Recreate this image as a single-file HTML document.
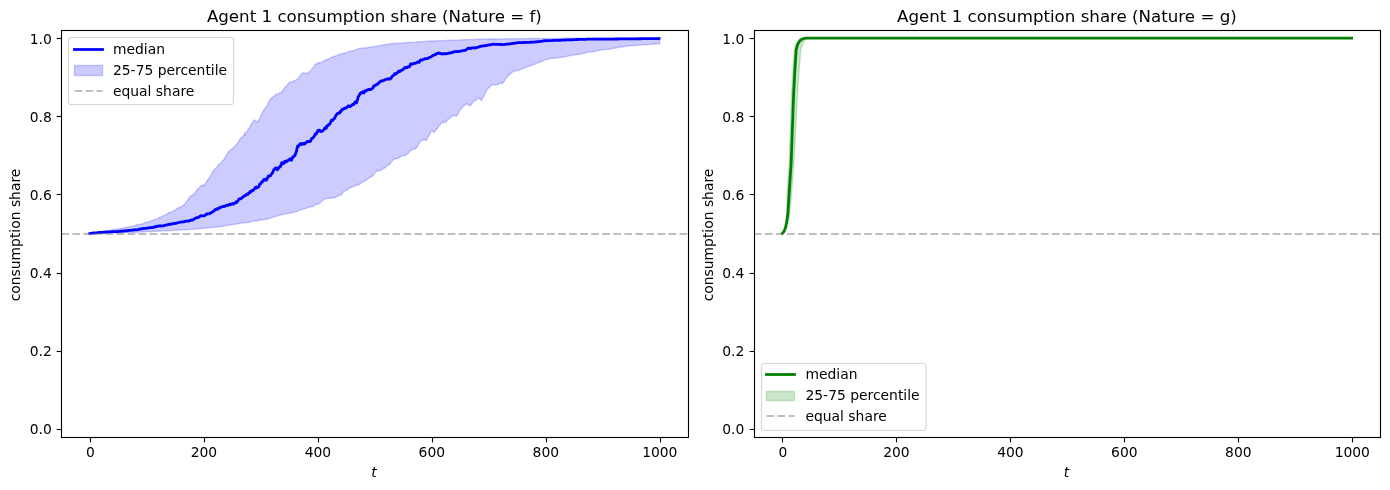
<!DOCTYPE html>
<html lang="en">
<head>
<meta charset="utf-8">
<title>Agent 1 consumption share</title>
<style>
html,body{margin:0;padding:0;background:#fff}
body{width:1390px;height:490px;overflow:hidden}
svg{display:block}
svg text{font-family:"DejaVu Sans", "Liberation Sans", sans-serif;fill:#000}
.tk{font-size:13.89px}
.ti{font-size:16.67px}
.sp{fill:none;stroke:#000;stroke-width:1.11;stroke-linecap:square}
.tick{stroke:#000;stroke-width:1.11;fill:none}
.dash{fill:none;stroke:#808080;stroke-opacity:.5;stroke-width:2.08;stroke-dasharray:7.71 3.33}
</style>
</head>
<body>
<svg width="1390" height="490" viewBox="0 0 1390 490">
<rect width="1390" height="490" fill="#fff"/>
<defs>
<clipPath id="c0"><rect x="61.28" y="30.3" width="626.22" height="406.42"/></clipPath>
<clipPath id="c1"><rect x="753.78" y="30.3" width="626.22" height="406.42"/></clipPath>
</defs>
<g id="axes1">
<g clip-path="url(#c0)">
<path d="M89.74 233.49 L90.31 233.45 L90.88 233.39 L91.45 233.24 L92.02 233.21 L92.59 233.16 L93.16 233.04 L93.73 233 L94.3 232.94 L94.87 232.88 L95.44 232.79 L96.01 232.75 L96.58 232.6 L97.15 232.51 L97.72 232.39 L98.29 232.37 L98.86 232.29 L99.43 232.19 L100 232.05 L100.57 231.93 L101.14 231.84 L101.71 231.72 L102.28 231.75 L102.85 231.73 L103.42 231.34 L103.99 231.08 L104.56 231.02 L105.13 230.92 L105.7 230.88 L106.27 230.83 L106.84 230.97 L107.41 230.72 L107.98 230.58 L108.55 230.69 L109.12 230.62 L109.69 230.54 L110.26 230.34 L110.83 230.05 L111.4 229.97 L111.97 229.88 L112.54 229.66 L113.11 229.51 L113.68 229.43 L114.25 229.28 L114.82 229.22 L115.39 229.18 L115.96 229.12 L116.53 229.01 L117.1 229 L117.67 229 L118.24 228.94 L118.81 228.77 L119.38 228.75 L119.95 228.61 L120.52 228.6 L121.09 228.41 L121.66 228.41 L122.23 228.31 L122.8 228.11 L123.37 228 L123.94 227.94 L124.51 227.9 L125.08 227.72 L125.65 227.53 L126.22 227.49 L126.79 227.37 L127.36 227.33 L127.93 227.34 L128.5 227.03 L129.06 226.95 L129.63 226.98 L130.2 226.79 L130.77 226.55 L131.34 226.52 L131.91 226.41 L132.48 226.38 L133.05 226.16 L133.62 225.81 L134.19 225.68 L134.76 225.5 L135.33 225.49 L135.9 225.38 L136.47 225.01 L137.04 224.74 L137.61 224.79 L138.18 224.78 L138.75 224.54 L139.32 224.42 L139.89 224.37 L140.46 224.3 L141.03 224.28 L141.6 224.14 L142.17 223.95 L142.74 223.73 L143.31 223.69 L143.88 223.1 L144.45 222.92 L145.02 222.77 L145.59 222.37 L146.16 222.31 L146.73 222.05 L147.3 222.07 L147.87 221.88 L148.44 221.82 L149.01 221.85 L149.58 221.68 L150.15 221.28 L150.72 220.8 L151.29 220.99 L151.86 220.75 L152.43 220.41 L153 220.26 L153.57 220.04 L154.14 220.04 L154.71 219.83 L155.28 219.63 L155.85 219.27 L156.42 219.2 L156.99 218.77 L157.56 218.69 L158.13 218.77 L158.7 218.1 L159.27 217.28 L159.84 217.29 L160.41 217.7 L160.98 217.14 L161.55 216.57 L162.12 216.51 L162.69 216.06 L163.26 215.72 L163.83 215.44 L164.4 215.38 L164.97 215.03 L165.54 214.88 L166.11 214.58 L166.68 214.1 L167.25 213.8 L167.82 213.34 L168.39 213.17 L168.96 212.67 L169.53 212.22 L170.09 212.51 L170.66 212.27 L171.23 212.03 L171.8 211.9 L172.37 211.48 L172.94 211.13 L173.51 210.96 L174.08 210.71 L174.65 210.08 L175.22 210.04 L175.79 209.54 L176.36 208.9 L176.93 208.34 L177.5 207.99 L178.07 208.43 L178.64 207.7 L179.21 207.77 L179.78 206.85 L180.35 206.98 L180.92 207.48 L181.49 207.24 L182.06 206.18 L182.63 205.57 L183.2 205.15 L183.77 204.64 L184.34 204.74 L184.91 203.77 L185.48 202.62 L186.05 201.85 L186.62 201.14 L187.19 200.55 L187.76 199.89 L188.33 199.36 L188.9 197.66 L189.47 197.74 L190.04 196.83 L190.61 195.65 L191.18 195.67 L191.75 195.93 L192.32 195.54 L192.89 194.93 L193.46 193.73 L194.03 194.7 L194.6 194.28 L195.17 192.77 L195.74 191.64 L196.31 191.08 L196.88 189.69 L197.45 189.33 L198.02 188.6 L198.59 188.83 L199.16 188.86 L199.73 186.89 L200.3 186.65 L200.87 185.5 L201.44 185.93 L202.01 185.69 L202.58 185.63 L203.15 184.59 L203.72 185.31 L204.29 185.95 L204.86 184.31 L205.43 183.71 L206 182.44 L206.57 181.68 L207.14 180.13 L207.71 180.78 L208.28 179.31 L208.85 178.37 L209.42 177.93 L209.99 176.66 L210.56 175.74 L211.12 174.63 L211.69 173.86 L212.26 172.39 L212.83 171.53 L213.4 170.84 L213.97 170.03 L214.54 169.48 L215.11 168.64 L215.68 168.59 L216.25 167.9 L216.82 167.36 L217.39 166.47 L217.96 165.74 L218.53 164.57 L219.1 164.7 L219.67 163.6 L220.24 162.88 L220.81 162.93 L221.38 162.88 L221.95 162.21 L222.52 160.5 L223.09 160.51 L223.66 160.02 L224.23 158.34 L224.8 158.25 L225.37 157.02 L225.94 155.58 L226.51 155.04 L227.08 154.25 L227.65 153.69 L228.22 151.85 L228.79 152.58 L229.36 151.63 L229.93 150.13 L230.5 150.25 L231.07 149.58 L231.64 149.38 L232.21 148.67 L232.78 148.17 L233.35 147.85 L233.92 146.85 L234.49 146.84 L235.06 145.99 L235.63 144.96 L236.2 144.52 L236.77 144.25 L237.34 143.48 L237.91 142.34 L238.48 142.22 L239.05 140.47 L239.62 139.39 L240.19 139.09 L240.76 137.8 L241.33 137.56 L241.9 137.18 L242.47 137.38 L243.04 136.2 L243.61 135.32 L244.18 135.11 L244.75 132.83 L245.32 134.47 L245.89 133.1 L246.46 131.82 L247.03 131.67 L247.6 130.79 L248.17 128.77 L248.74 128.53 L249.31 128.19 L249.88 126.87 L250.45 125.74 L251.02 125.08 L251.59 123.52 L252.15 122.87 L252.72 122.02 L253.29 121.26 L253.86 120.41 L254.43 120.46 L255 120.07 L255.57 120.99 L256.14 121.16 L256.71 121.71 L257.28 121.72 L257.85 121.8 L258.42 120.21 L258.99 119.6 L259.56 119.64 L260.13 118.07 L260.7 116.41 L261.27 115.16 L261.84 113.72 L262.41 112.21 L262.98 111.34 L263.55 110.15 L264.12 110.11 L264.69 108.92 L265.26 108.04 L265.83 107.64 L266.4 106.31 L266.97 106.2 L267.54 104.57 L268.11 102.97 L268.68 101.84 L269.25 101.25 L269.82 99.81 L270.39 99.47 L270.96 98.09 L271.53 98.76 L272.1 98.27 L272.67 97.46 L273.24 96.66 L273.81 96.29 L274.38 95.99 L274.95 95.29 L275.52 94.73 L276.09 94.51 L276.66 94.07 L277.23 94.3 L277.8 94.5 L278.37 94.08 L278.94 93.87 L279.51 92.76 L280.08 92.73 L280.65 92.31 L281.22 92.14 L281.79 92.51 L282.36 90.73 L282.93 90.51 L283.5 89.29 L284.07 89.04 L284.64 87.74 L285.21 86.98 L285.78 86.57 L286.35 86.3 L286.92 85.69 L287.49 84.65 L288.06 83.79 L288.63 83.63 L289.2 82.95 L289.77 81.88 L290.34 82.15 L290.91 82.13 L291.48 82.26 L292.05 81.78 L292.61 81.86 L293.18 81.02 L293.75 81.03 L294.32 80.51 L294.89 80.56 L295.46 80.65 L296.03 79.95 L296.6 79.63 L297.17 79.3 L297.74 78.95 L298.31 78.33 L298.88 77.02 L299.45 76.4 L300.02 75.84 L300.59 75.68 L301.16 74.18 L301.73 73.59 L302.3 73.94 L302.87 73.3 L303.44 72.79 L304.01 72.98 L304.58 73.33 L305.15 72.94 L305.72 73.08 L306.29 73 L306.86 73.44 L307.43 73.21 L308 73.37 L308.57 72.8 L309.14 72.04 L309.71 71.31 L310.28 71.04 L310.85 70.49 L311.42 69.43 L311.99 68.98 L312.56 68.55 L313.13 67.75 L313.7 66.92 L314.27 66.14 L314.84 64.78 L315.41 64.33 L315.98 64.08 L316.55 63.59 L317.12 63.78 L317.69 63.1 L318.26 62.84 L318.83 62.62 L319.4 63.21 L319.97 62.48 L320.54 62.5 L321.11 62.57 L321.68 62.4 L322.25 62.41 L322.82 61.82 L323.39 61 L323.96 61.05 L324.53 60.52 L325.1 60.21 L325.67 59.69 L326.24 59.79 L326.81 59.77 L327.38 59.27 L327.95 59.24 L328.52 58.94 L329.09 58.58 L329.66 58.28 L330.23 57.91 L330.8 57.76 L331.37 57.5 L331.94 57.07 L332.51 56.99 L333.08 56.52 L333.64 56.39 L334.21 56.28 L334.78 56.38 L335.35 55.99 L335.92 56.11 L336.49 55.84 L337.06 55.52 L337.63 55.14 L338.2 55.04 L338.77 54.83 L339.34 54.41 L339.91 54.05 L340.48 53.83 L341.05 53.59 L341.62 53.67 L342.19 53.74 L342.76 53.68 L343.33 53.5 L343.9 53.2 L344.47 53 L345.04 52.94 L345.61 53.07 L346.18 52.94 L346.75 52.6 L347.32 52.35 L347.89 52.03 L348.46 51.7 L349.03 51.49 L349.6 51.36 L350.17 51.49 L350.74 51.26 L351.31 51.26 L351.88 51.29 L352.45 51.01 L353.02 50.99 L353.59 50.79 L354.16 50.42 L354.73 50.2 L355.3 49.95 L355.87 49.68 L356.44 49.44 L357.01 49.27 L357.58 49.13 L358.15 48.82 L358.72 48.65 L359.29 48.3 L359.86 48.21 L360.43 48.21 L361 48.17 L361.57 48.14 L362.14 48.12 L362.71 47.98 L363.28 47.9 L363.85 47.89 L364.42 47.9 L364.99 47.85 L365.56 47.94 L366.13 47.81 L366.7 47.76 L367.27 47.73 L367.84 47.62 L368.41 47.48 L368.98 47.33 L369.55 47.27 L370.12 47.29 L370.69 47.23 L371.26 47.17 L371.83 47.06 L372.4 47.04 L372.97 46.8 L373.54 46.77 L374.11 46.73 L374.67 46.53 L375.24 46.63 L375.81 46.39 L376.38 46.19 L376.95 46 L377.52 46.03 L378.09 45.85 L378.66 45.84 L379.23 45.79 L379.8 45.71 L380.37 45.45 L380.94 45.3 L381.51 45.39 L382.08 45.13 L382.65 44.96 L383.22 44.87 L383.79 44.86 L384.36 44.78 L384.93 44.74 L385.5 44.51 L386.07 44.49 L386.64 44.42 L387.21 44.16 L387.78 44.18 L388.35 44.22 L388.92 44.04 L389.49 43.98 L390.06 44.01 L390.63 43.84 L391.2 43.67 L391.77 43.57 L392.34 43.54 L392.91 43.5 L393.48 43.53 L394.05 43.52 L394.62 43.43 L395.19 43.44 L395.76 43.48 L396.33 43.48 L396.9 43.46 L397.47 43.4 L398.04 43.38 L398.61 43.28 L399.18 43.26 L399.75 43.21 L400.32 43.2 L400.89 43.16 L401.46 43.06 L402.03 43.02 L402.6 43.02 L403.17 42.93 L403.74 42.86 L404.31 42.79 L404.88 42.7 L405.45 42.72 L406.02 42.74 L406.59 42.72 L407.16 42.68 L407.73 42.63 L408.3 42.59 L408.87 42.51 L409.44 42.51 L410.01 42.5 L410.58 42.48 L411.15 42.41 L411.72 42.36 L412.29 42.31 L412.86 42.33 L413.43 42.28 L414 42.16 L414.57 42.14 L415.14 42.17 L415.7 42.14 L416.27 42.12 L416.84 42.06 L417.41 41.93 L417.98 41.83 L418.55 41.76 L419.12 41.74 L419.69 41.73 L420.26 41.73 L420.83 41.68 L421.4 41.69 L421.97 41.64 L422.54 41.57 L423.11 41.57 L423.68 41.5 L424.25 41.37 L424.82 41.32 L425.39 41.31 L425.96 41.19 L426.53 41.18 L427.1 41.16 L427.67 41.11 L428.24 41.06 L428.81 41.04 L429.38 41.02 L429.95 41.05 L430.52 41.03 L431.09 40.96 L431.66 40.92 L432.23 40.94 L432.8 40.98 L433.37 40.96 L433.94 40.94 L434.51 40.96 L435.08 40.92 L435.65 40.88 L436.22 40.82 L436.79 40.79 L437.36 40.82 L437.93 40.76 L438.5 40.74 L439.07 40.69 L439.64 40.68 L440.21 40.68 L440.78 40.65 L441.35 40.64 L441.92 40.63 L442.49 40.62 L443.06 40.63 L443.63 40.61 L444.2 40.57 L444.77 40.52 L445.34 40.48 L445.91 40.47 L446.48 40.44 L447.05 40.47 L447.62 40.47 L448.19 40.43 L448.76 40.39 L449.33 40.39 L449.9 40.32 L450.47 40.29 L451.04 40.29 L451.61 40.24 L452.18 40.21 L452.75 40.19 L453.32 40.19 L453.89 40.17 L454.46 40.16 L455.03 40.15 L455.6 40.12 L456.17 40.12 L456.73 40.08 L457.3 40.03 L457.87 39.98 L458.44 39.94 L459.01 39.92 L459.58 39.93 L460.15 39.93 L460.72 39.9 L461.29 39.86 L461.86 39.84 L462.43 39.82 L463 39.8 L463.57 39.77 L464.14 39.75 L464.71 39.76 L465.28 39.71 L465.85 39.69 L466.42 39.64 L466.99 39.65 L467.56 39.62 L468.13 39.58 L468.7 39.58 L469.27 39.61 L469.84 39.6 L470.41 39.6 L470.98 39.58 L471.55 39.52 L472.12 39.51 L472.69 39.49 L473.26 39.45 L473.83 39.45 L474.4 39.44 L474.97 39.41 L475.54 39.41 L476.11 39.38 L476.68 39.37 L477.25 39.34 L477.82 39.33 L478.39 39.29 L478.96 39.3 L479.53 39.29 L480.1 39.29 L480.67 39.25 L481.24 39.22 L481.81 39.21 L482.38 39.15 L482.95 39.12 L483.52 39.14 L484.09 39.14 L484.66 39.14 L485.23 39.13 L485.8 39.13 L486.37 39.11 L486.94 39.09 L487.51 39.07 L488.08 39.06 L488.65 39.06 L489.22 39.05 L489.79 39.02 L490.36 39.01 L490.93 39.01 L491.5 39.01 L492.07 39 L492.64 39 L493.21 38.98 L493.78 38.99 L494.35 38.98 L494.92 38.99 L495.49 38.99 L496.06 38.99 L496.63 38.97 L497.19 38.97 L497.76 38.95 L498.33 38.95 L498.9 38.94 L499.47 38.93 L500.04 38.93 L500.61 38.94 L501.18 38.92 L501.75 38.92 L502.32 38.9 L502.89 38.89 L503.46 38.87 L504.03 38.86 L504.6 38.86 L505.17 38.86 L505.74 38.86 L506.31 38.85 L506.88 38.84 L507.45 38.83 L508.02 38.81 L508.59 38.81 L509.16 38.8 L509.73 38.79 L510.3 38.78 L510.87 38.76 L511.44 38.76 L512.01 38.75 L512.58 38.74 L513.15 38.73 L513.72 38.73 L514.29 38.73 L514.86 38.73 L515.43 38.72 L516 38.7 L516.57 38.69 L517.14 38.68 L517.71 38.68 L518.28 38.68 L518.85 38.67 L519.42 38.66 L519.99 38.65 L520.56 38.65 L521.13 38.63 L521.7 38.63 L522.27 38.63 L522.84 38.62 L523.41 38.61 L523.98 38.61 L524.55 38.6 L525.12 38.59 L525.69 38.6 L526.26 38.59 L526.83 38.6 L527.4 38.59 L527.97 38.58 L528.54 38.58 L529.11 38.58 L529.68 38.57 L530.25 38.56 L530.82 38.56 L531.39 38.55 L531.96 38.54 L532.53 38.53 L533.1 38.53 L533.67 38.52 L534.24 38.52 L534.81 38.52 L535.38 38.52 L535.95 38.52 L536.52 38.51 L537.09 38.51 L537.66 38.5 L538.22 38.5 L538.79 38.5 L539.36 38.5 L539.93 38.49 L540.5 38.49 L541.07 38.48 L541.64 38.49 L542.21 38.49 L542.78 38.48 L543.35 38.47 L543.92 38.46 L544.49 38.46 L545.06 38.46 L545.63 38.45 L546.2 38.45 L546.77 38.43 L547.34 38.42 L547.91 38.43 L548.48 38.42 L549.05 38.42 L549.62 38.42 L550.19 38.41 L550.76 38.42 L551.33 38.41 L551.9 38.4 L552.47 38.4 L553.04 38.4 L553.61 38.39 L554.18 38.39 L554.75 38.38 L555.32 38.38 L555.89 38.37 L556.46 38.37 L557.03 38.36 L557.6 38.36 L558.17 38.36 L558.74 38.35 L559.31 38.35 L559.88 38.35 L560.45 38.34 L561.02 38.34 L561.59 38.34 L562.16 38.33 L562.73 38.33 L563.3 38.32 L563.87 38.32 L564.44 38.32 L565.01 38.32 L565.58 38.3 L566.15 38.3 L566.72 38.29 L567.29 38.29 L567.86 38.29 L568.43 38.28 L569 38.28 L569.57 38.28 L570.14 38.27 L570.71 38.27 L571.28 38.27 L571.85 38.27 L572.42 38.26 L572.99 38.25 L573.56 38.24 L574.13 38.24 L574.7 38.24 L575.27 38.24 L575.84 38.24 L576.41 38.23 L576.98 38.23 L577.55 38.22 L578.12 38.22 L578.69 38.22 L579.25 38.21 L579.82 38.21 L580.39 38.21 L580.96 38.21 L581.53 38.2 L582.1 38.2 L582.67 38.2 L583.24 38.2 L583.81 38.2 L584.38 38.2 L584.95 38.2 L585.52 38.2 L586.09 38.19 L586.66 38.19 L587.23 38.19 L587.8 38.19 L588.37 38.19 L588.94 38.19 L589.51 38.19 L590.08 38.19 L590.65 38.19 L591.22 38.19 L591.79 38.18 L592.36 38.18 L592.93 38.18 L593.5 38.18 L594.07 38.18 L594.64 38.18 L595.21 38.18 L595.78 38.18 L596.35 38.18 L596.92 38.18 L597.49 38.18 L598.06 38.18 L598.63 38.18 L599.2 38.18 L599.77 38.18 L600.34 38.18 L600.91 38.17 L601.48 38.17 L602.05 38.17 L602.62 38.17 L603.19 38.17 L603.76 38.17 L604.33 38.17 L604.9 38.17 L605.47 38.17 L606.04 38.17 L606.61 38.16 L607.18 38.16 L607.75 38.16 L608.32 38.16 L608.89 38.16 L609.46 38.16 L610.03 38.16 L610.6 38.16 L611.17 38.16 L611.74 38.16 L612.31 38.16 L612.88 38.16 L613.45 38.16 L614.02 38.16 L614.59 38.16 L615.16 38.16 L615.73 38.15 L616.3 38.15 L616.87 38.15 L617.44 38.15 L618.01 38.15 L618.58 38.15 L619.15 38.15 L619.72 38.15 L620.28 38.15 L620.85 38.15 L621.42 38.15 L621.99 38.15 L622.56 38.14 L623.13 38.14 L623.7 38.14 L624.27 38.14 L624.84 38.14 L625.41 38.14 L625.98 38.14 L626.55 38.14 L627.12 38.14 L627.69 38.14 L628.26 38.14 L628.83 38.14 L629.4 38.14 L629.97 38.14 L630.54 38.14 L631.11 38.13 L631.68 38.13 L632.25 38.13 L632.82 38.13 L633.39 38.13 L633.96 38.13 L634.53 38.13 L635.1 38.13 L635.67 38.13 L636.24 38.13 L636.81 38.13 L637.38 38.13 L637.95 38.13 L638.52 38.13 L639.09 38.13 L639.66 38.12 L640.23 38.12 L640.8 38.12 L641.37 38.12 L641.94 38.12 L642.51 38.12 L643.08 38.12 L643.65 38.12 L644.22 38.12 L644.79 38.12 L645.36 38.12 L645.93 38.12 L646.5 38.12 L647.07 38.12 L647.64 38.12 L648.21 38.12 L648.78 38.12 L649.35 38.12 L649.92 38.12 L650.49 38.12 L651.06 38.12 L651.63 38.12 L652.2 38.12 L652.77 38.12 L653.34 38.12 L653.91 38.12 L654.48 38.12 L655.05 38.12 L655.62 38.12 L656.19 38.12 L656.76 38.12 L657.33 38.12 L657.9 38.12 L658.47 38.12 L659.64 38.12 L659.64 43.66 L658.47 43.71 L657.9 43.79 L657.33 43.8 L656.76 43.87 L656.19 43.95 L655.62 44.01 L655.05 43.99 L654.48 44.03 L653.91 44.07 L653.34 44.14 L652.77 44.15 L652.2 44.23 L651.63 44.22 L651.06 44.22 L650.49 44.31 L649.92 44.35 L649.35 44.45 L648.78 44.57 L648.21 44.57 L647.64 44.66 L647.07 44.71 L646.5 44.79 L645.93 44.8 L645.36 44.92 L644.79 44.85 L644.22 44.88 L643.65 44.89 L643.08 44.92 L642.51 44.89 L641.94 44.91 L641.37 44.95 L640.8 45.04 L640.23 45.12 L639.66 45.13 L639.09 45.2 L638.52 45.18 L637.95 45.28 L637.38 45.28 L636.81 45.32 L636.24 45.3 L635.67 45.38 L635.1 45.45 L634.53 45.42 L633.96 45.48 L633.39 45.48 L632.82 45.61 L632.25 45.71 L631.68 45.63 L631.11 45.65 L630.54 45.7 L629.97 45.88 L629.4 45.9 L628.83 46.07 L628.26 46.07 L627.69 46.12 L627.12 46.18 L626.55 46.23 L625.98 46.5 L625.41 46.54 L624.84 46.49 L624.27 46.53 L623.7 46.62 L623.13 46.72 L622.56 47.09 L621.99 47.13 L621.42 47.01 L620.85 47.04 L620.28 47.1 L619.72 47.25 L619.15 47.28 L618.58 47.38 L618.01 47.51 L617.44 47.66 L616.87 47.79 L616.3 47.82 L615.73 47.95 L615.16 48.05 L614.59 48.21 L614.02 48.27 L613.45 48.24 L612.88 48.41 L612.31 48.55 L611.74 48.67 L611.17 48.88 L610.6 48.88 L610.03 49.15 L609.46 49.3 L608.89 49.21 L608.32 49.26 L607.75 49.33 L607.18 49.48 L606.61 49.51 L606.04 49.6 L605.47 49.58 L604.9 49.57 L604.33 49.52 L603.76 49.53 L603.19 49.59 L602.62 49.82 L602.05 49.98 L601.48 50.06 L600.91 50.13 L600.34 50.17 L599.77 50.4 L599.2 50.47 L598.63 50.56 L598.06 50.67 L597.49 50.64 L596.92 50.65 L596.35 50.77 L595.78 50.85 L595.21 51.07 L594.64 51.28 L594.07 51.4 L593.5 51.63 L592.93 51.69 L592.36 51.86 L591.79 51.86 L591.22 51.99 L590.65 51.96 L590.08 51.79 L589.51 52.05 L588.94 51.85 L588.37 51.9 L587.8 51.97 L587.23 52.28 L586.66 52.48 L586.09 52.54 L585.52 52.66 L584.95 52.9 L584.38 53.18 L583.81 53.29 L583.24 53.32 L582.67 53.71 L582.1 53.8 L581.53 53.83 L580.96 53.91 L580.39 54.11 L579.82 54.2 L579.25 54.35 L578.69 54.41 L578.12 54.6 L577.55 54.55 L576.98 54.59 L576.41 54.55 L575.84 54.69 L575.27 54.89 L574.7 54.87 L574.13 54.9 L573.56 54.91 L572.99 55.15 L572.42 55.26 L571.85 55.36 L571.28 55.5 L570.71 55.52 L570.14 55.62 L569.57 55.72 L569 55.69 L568.43 55.8 L567.86 56.02 L567.29 56.32 L566.72 56.44 L566.15 56.44 L565.58 56.51 L565.01 56.73 L564.44 56.95 L563.87 57.07 L563.3 57.09 L562.73 57.29 L562.16 57.13 L561.59 57.11 L561.02 57.25 L560.45 57.23 L559.88 57.44 L559.31 57.51 L558.74 57.68 L558.17 57.75 L557.6 57.81 L557.03 57.81 L556.46 57.86 L555.89 57.95 L555.32 58.02 L554.75 58.06 L554.18 58.17 L553.61 58.23 L553.04 58.2 L552.47 58.22 L551.9 58.25 L551.33 58.36 L550.76 58.3 L550.19 58.63 L549.62 58.64 L549.05 58.85 L548.48 59.16 L547.91 59.36 L547.34 59.59 L546.77 59.5 L546.2 59.55 L545.63 59.6 L545.06 59.87 L544.49 60.03 L543.92 60.45 L543.35 60.65 L542.78 60.67 L542.21 61.26 L541.64 61.25 L541.07 61.68 L540.5 62.17 L539.93 62.06 L539.36 62.25 L538.79 62.51 L538.22 62.9 L537.66 62.84 L537.09 63.09 L536.52 63.45 L535.95 64.12 L535.38 64.28 L534.81 64.34 L534.24 64.41 L533.67 64.48 L533.1 64.46 L532.53 64.92 L531.96 64.85 L531.39 65.22 L530.82 65.7 L530.25 65.88 L529.68 66.22 L529.11 66.28 L528.54 66.33 L527.97 66.6 L527.4 66.86 L526.83 66.6 L526.26 66.77 L525.69 66.87 L525.12 67.4 L524.55 68.18 L523.98 68.39 L523.41 68.41 L522.84 68.45 L522.27 68.63 L521.7 68.73 L521.13 69.02 L520.56 69.37 L519.99 69.77 L519.42 69.82 L518.85 70.33 L518.28 70.55 L517.71 70.33 L517.14 70.22 L516.57 70.54 L516 71.03 L515.43 71.25 L514.86 71.06 L514.29 70.65 L513.72 70.85 L513.15 71.11 L512.58 72.03 L512.01 71.78 L511.44 72.99 L510.87 73.61 L510.3 73.74 L509.73 74.49 L509.16 74.94 L508.59 74.59 L508.02 75.97 L507.45 76.59 L506.88 77.17 L506.31 78.13 L505.74 78.92 L505.17 79.55 L504.6 80.88 L504.03 81.61 L503.46 82.15 L502.89 82.47 L502.32 83.77 L501.75 83.15 L501.18 83.02 L500.61 83.2 L500.04 83.17 L499.47 83.27 L498.9 83.72 L498.33 83.95 L497.76 84.39 L497.19 84.63 L496.63 84.88 L496.06 84.93 L495.49 85.05 L494.92 84.83 L494.35 84.52 L493.78 84.68 L493.21 84.75 L492.64 84.9 L492.07 84.6 L491.5 85.59 L490.93 85.98 L490.36 86.06 L489.79 87.68 L489.22 87.72 L488.65 87.65 L488.08 88.67 L487.51 89.26 L486.94 90.03 L486.37 90.83 L485.8 91.66 L485.23 93.44 L484.66 94.74 L484.09 95.67 L483.52 96.88 L482.95 97.67 L482.38 98.46 L481.81 99.33 L481.24 100.53 L480.67 98.89 L480.1 99.2 L479.53 98.95 L478.96 97.93 L478.39 97.87 L477.82 97.74 L477.25 99.04 L476.68 99.86 L476.11 99.66 L475.54 100.05 L474.97 100.83 L474.4 100.91 L473.83 101.06 L473.26 101.78 L472.69 103.02 L472.12 103.32 L471.55 103.9 L470.98 105.2 L470.41 105.46 L469.84 105.92 L469.27 105.26 L468.7 104.31 L468.13 104.46 L467.56 104.83 L466.99 104.39 L466.42 103.4 L465.85 104.12 L465.28 104.88 L464.71 105.38 L464.14 105.54 L463.57 105.87 L463 106.67 L462.43 107.1 L461.86 107.85 L461.29 108.79 L460.72 109.03 L460.15 109.4 L459.58 110.53 L459.01 111.77 L458.44 113.1 L457.87 113.92 L457.3 115.04 L456.73 115.9 L456.17 116.25 L455.6 115.74 L455.03 115.38 L454.46 115.68 L453.89 115.33 L453.32 115.78 L452.75 115.97 L452.18 115.91 L451.61 116.44 L451.04 116.85 L450.47 117.72 L449.9 118.29 L449.33 118.17 L448.76 118.9 L448.19 119.52 L447.62 120.12 L447.05 120.37 L446.48 121.5 L445.91 122.4 L445.34 121.9 L444.77 121.62 L444.2 121.98 L443.63 121.35 L443.06 122.64 L442.49 122.82 L441.92 122.95 L441.35 123.11 L440.78 123.41 L440.21 124.71 L439.64 125.18 L439.07 125.59 L438.5 126.49 L437.93 127.99 L437.36 128.64 L436.79 128.41 L436.22 129.73 L435.65 130.77 L435.08 131.05 L434.51 131.45 L433.94 132.54 L433.37 131.06 L432.8 131.01 L432.23 131.21 L431.66 130.98 L431.09 131.14 L430.52 133.15 L429.95 133.37 L429.38 134.73 L428.81 136.23 L428.24 136.53 L427.67 137.49 L427.1 139.17 L426.53 140.08 L425.96 139.97 L425.39 140.45 L424.82 139.79 L424.25 139.02 L423.68 139.76 L423.11 140.15 L422.54 140.1 L421.97 139.89 L421.4 140.5 L420.83 141.13 L420.26 141.91 L419.69 142.56 L419.12 143.54 L418.55 144.34 L417.98 145.86 L417.41 146.62 L416.84 147.81 L416.27 147.93 L415.7 148.01 L415.14 148.81 L414.57 149.25 L414 148.97 L413.43 149.17 L412.86 149.28 L412.29 149.87 L411.72 150.42 L411.15 150.18 L410.58 150.43 L410.01 150.96 L409.44 152.08 L408.87 152.72 L408.3 153.2 L407.73 153.68 L407.16 154.18 L406.59 154.28 L406.02 154.72 L405.45 154.92 L404.88 155.65 L404.31 155.9 L403.74 155.63 L403.17 155.76 L402.6 155.89 L402.03 156.08 L401.46 156.36 L400.89 156.36 L400.32 156.89 L399.75 157.14 L399.18 157.53 L398.61 157.72 L398.04 158.17 L397.47 158.56 L396.9 158.61 L396.33 158.63 L395.76 158.78 L395.19 159.17 L394.62 158.98 L394.05 158.94 L393.48 159.55 L392.91 159.56 L392.34 160.88 L391.77 161.62 L391.2 162.2 L390.63 163.04 L390.06 163.98 L389.49 164.86 L388.92 164.86 L388.35 164.54 L387.78 165.51 L387.21 165.66 L386.64 165.77 L386.07 166.8 L385.5 167.5 L384.93 167.98 L384.36 168.09 L383.79 167.71 L383.22 168.4 L382.65 168.91 L382.08 169.39 L381.51 169.32 L380.94 169.9 L380.37 170.31 L379.8 170.7 L379.23 170.72 L378.66 171.12 L378.09 170.99 L377.52 170.82 L376.95 171.23 L376.38 171.19 L375.81 171.86 L375.24 172.68 L374.67 173.3 L374.11 173.66 L373.54 174.51 L372.97 175.99 L372.4 176.01 L371.83 176.23 L371.26 176.69 L370.69 177.23 L370.12 177.13 L369.55 177.87 L368.98 178.28 L368.41 178.24 L367.84 178.67 L367.27 179.2 L366.7 179.93 L366.13 180.43 L365.56 180.77 L364.99 180.97 L364.42 181.05 L363.85 181.24 L363.28 181.57 L362.71 181.88 L362.14 182.28 L361.57 182.98 L361 183.14 L360.43 183.49 L359.86 184.11 L359.29 184.3 L358.72 185.04 L358.15 184.44 L357.58 184.76 L357.01 184.52 L356.44 185.22 L355.87 185.69 L355.3 185.85 L354.73 185.91 L354.16 186.48 L353.59 186.63 L353.02 186.97 L352.45 187.12 L351.88 187.09 L351.31 187.43 L350.74 187.64 L350.17 187.47 L349.6 187.8 L349.03 188.28 L348.46 188.89 L347.89 189.35 L347.32 189.7 L346.75 190.49 L346.18 190.17 L345.61 190.34 L345.04 190.66 L344.47 191.19 L343.9 191.68 L343.33 192.05 L342.76 192.7 L342.19 193.68 L341.62 194.44 L341.05 195.08 L340.48 194.6 L339.91 195.21 L339.34 195.28 L338.77 196.01 L338.2 196.1 L337.63 196.1 L337.06 196.59 L336.49 196.6 L335.92 197.02 L335.35 197.41 L334.78 197.73 L334.21 198.16 L333.64 197.61 L333.08 197.78 L332.51 197.72 L331.94 197.68 L331.37 197.79 L330.8 198.03 L330.23 198.12 L329.66 198.28 L329.09 198.27 L328.52 198.23 L327.95 198.56 L327.38 198.3 L326.81 198.35 L326.24 198.52 L325.67 198.6 L325.1 198.92 L324.53 199.38 L323.96 199.54 L323.39 199.64 L322.82 200.61 L322.25 200.85 L321.68 201.08 L321.11 201.9 L320.54 202.48 L319.97 202.87 L319.4 203.12 L318.83 203.82 L318.26 204.1 L317.69 203.77 L317.12 204.38 L316.55 204.37 L315.98 204.19 L315.41 204.7 L314.84 205.19 L314.27 205.61 L313.7 206.17 L313.13 206.44 L312.56 206.35 L311.99 206.52 L311.42 206.54 L310.85 206.87 L310.28 207.06 L309.71 207.22 L309.14 207.03 L308.57 207.05 L308 207.37 L307.43 207.77 L306.86 207.79 L306.29 208.05 L305.72 208.26 L305.15 208.66 L304.58 208.75 L304.01 208.97 L303.44 208.87 L302.87 208.97 L302.3 209.08 L301.73 209.54 L301.16 209.58 L300.59 209.69 L300.02 209.81 L299.45 210.32 L298.88 210.87 L298.31 210.91 L297.74 211.35 L297.17 211.36 L296.6 211.43 L296.03 211.62 L295.46 211.72 L294.89 211.94 L294.32 212.07 L293.75 212.39 L293.18 212.53 L292.61 212.75 L292.05 212.8 L291.48 212.82 L290.91 212.78 L290.34 213.1 L289.77 213.14 L289.2 213.28 L288.63 213.52 L288.06 213.55 L287.49 213.5 L286.92 213.59 L286.35 213.57 L285.78 213.69 L285.21 213.62 L284.64 213.95 L284.07 214.24 L283.5 214.44 L282.93 214.29 L282.36 214.45 L281.79 214.49 L281.22 214.6 L280.65 214.92 L280.08 215.03 L279.51 215.18 L278.94 215.17 L278.37 215.36 L277.8 215.8 L277.23 216.05 L276.66 216.1 L276.09 216.23 L275.52 216.49 L274.95 216.42 L274.38 216.74 L273.81 216.84 L273.24 217.16 L272.67 217.25 L272.1 217.36 L271.53 217.8 L270.96 217.59 L270.39 217.62 L269.82 217.99 L269.25 218.32 L268.68 218.68 L268.11 218.89 L267.54 218.97 L266.97 219.05 L266.4 219.21 L265.83 219.3 L265.26 219.23 L264.69 219.48 L264.12 219.62 L263.55 219.85 L262.98 219.84 L262.41 219.78 L261.84 220 L261.27 220.08 L260.7 220.14 L260.13 220.06 L259.56 220.04 L258.99 220.18 L258.42 220.48 L257.85 220.73 L257.28 220.84 L256.71 220.97 L256.14 220.97 L255.57 221.13 L255 220.93 L254.43 220.95 L253.86 220.92 L253.29 221.05 L252.72 221.2 L252.15 221.45 L251.59 221.57 L251.02 221.72 L250.45 222.11 L249.88 222.15 L249.31 222.18 L248.74 222.44 L248.17 222.52 L247.6 222.49 L247.03 222.67 L246.46 222.68 L245.89 222.78 L245.32 222.78 L244.75 222.67 L244.18 222.69 L243.61 222.72 L243.04 222.78 L242.47 222.87 L241.9 223.03 L241.33 223.17 L240.76 223.24 L240.19 223.37 L239.62 223.44 L239.05 223.61 L238.48 223.62 L237.91 223.81 L237.34 223.88 L236.77 224.02 L236.2 224.17 L235.63 224.18 L235.06 224.07 L234.49 224.22 L233.92 224.34 L233.35 224.43 L232.78 224.6 L232.21 224.61 L231.64 224.68 L231.07 224.66 L230.5 224.72 L229.93 224.92 L229.36 225.09 L228.79 225.24 L228.22 225.24 L227.65 225.29 L227.08 225.34 L226.51 225.33 L225.94 225.51 L225.37 225.69 L224.8 225.84 L224.23 225.91 L223.66 226.22 L223.09 226.29 L222.52 226.47 L221.95 226.53 L221.38 226.48 L220.81 226.35 L220.24 226.45 L219.67 226.58 L219.1 226.56 L218.53 226.76 L217.96 226.87 L217.39 226.89 L216.82 226.9 L216.25 227.09 L215.68 227.21 L215.11 227.25 L214.54 227.17 L213.97 227.32 L213.4 227.31 L212.83 227.29 L212.26 227.41 L211.69 227.46 L211.12 227.5 L210.56 227.51 L209.99 227.58 L209.42 227.62 L208.85 227.67 L208.28 227.63 L207.71 227.67 L207.14 227.82 L206.57 227.98 L206 228.03 L205.43 228.01 L204.86 228.12 L204.29 228.12 L203.72 228.2 L203.15 228.23 L202.58 228.4 L202.01 228.38 L201.44 228.52 L200.87 228.59 L200.3 228.54 L199.73 228.56 L199.16 228.65 L198.59 228.72 L198.02 228.72 L197.45 228.75 L196.88 228.93 L196.31 228.96 L195.74 229.04 L195.17 229.06 L194.6 229.03 L194.03 229.09 L193.46 229.13 L192.89 229.22 L192.32 229.33 L191.75 229.34 L191.18 229.33 L190.61 229.44 L190.04 229.48 L189.47 229.6 L188.9 229.61 L188.33 229.6 L187.76 229.66 L187.19 229.68 L186.62 229.69 L186.05 229.76 L185.48 229.79 L184.91 229.79 L184.34 229.78 L183.77 229.81 L183.2 229.84 L182.63 229.83 L182.06 229.91 L181.49 229.94 L180.92 229.99 L180.35 230.06 L179.78 230.1 L179.21 230.11 L178.64 230.12 L178.07 230.13 L177.5 230.17 L176.93 230.19 L176.36 230.23 L175.79 230.28 L175.22 230.3 L174.65 230.37 L174.08 230.37 L173.51 230.41 L172.94 230.39 L172.37 230.44 L171.8 230.44 L171.23 230.51 L170.66 230.53 L170.09 230.57 L169.53 230.59 L168.96 230.65 L168.39 230.71 L167.82 230.74 L167.25 230.78 L166.68 230.75 L166.11 230.79 L165.54 230.81 L164.97 230.86 L164.4 230.85 L163.83 230.85 L163.26 230.87 L162.69 230.91 L162.12 230.97 L161.55 231.01 L160.98 231.06 L160.41 231.12 L159.84 231.13 L159.27 231.14 L158.7 231.17 L158.13 231.2 L157.56 231.26 L156.99 231.3 L156.42 231.31 L155.85 231.28 L155.28 231.34 L154.71 231.37 L154.14 231.36 L153.57 231.45 L153 231.47 L152.43 231.54 L151.86 231.55 L151.29 231.62 L150.72 231.61 L150.15 231.66 L149.58 231.69 L149.01 231.65 L148.44 231.66 L147.87 231.65 L147.3 231.66 L146.73 231.67 L146.16 231.73 L145.59 231.77 L145.02 231.81 L144.45 231.85 L143.88 231.89 L143.31 231.91 L142.74 231.94 L142.17 232 L141.6 232.02 L141.03 232.07 L140.46 232.06 L139.89 232.11 L139.32 232.11 L138.75 232.12 L138.18 232.17 L137.61 232.2 L137.04 232.25 L136.47 232.29 L135.9 232.29 L135.33 232.34 L134.76 232.37 L134.19 232.39 L133.62 232.4 L133.05 232.37 L132.48 232.41 L131.91 232.47 L131.34 232.49 L130.77 232.5 L130.2 232.54 L129.63 232.57 L129.06 232.55 L128.5 232.57 L127.93 232.54 L127.36 232.62 L126.79 232.67 L126.22 232.72 L125.65 232.73 L125.08 232.76 L124.51 232.79 L123.94 232.83 L123.37 232.84 L122.8 232.89 L122.23 232.93 L121.66 232.96 L121.09 232.95 L120.52 232.95 L119.95 232.98 L119.38 232.97 L118.81 232.98 L118.24 233.02 L117.67 233.02 L117.1 233.01 L116.53 233.06 L115.96 233.05 L115.39 233.07 L114.82 233.06 L114.25 233.08 L113.68 233.11 L113.11 233.14 L112.54 233.13 L111.97 233.14 L111.4 233.15 L110.83 233.18 L110.26 233.18 L109.69 233.19 L109.12 233.2 L108.55 233.21 L107.98 233.21 L107.41 233.21 L106.84 233.21 L106.27 233.21 L105.7 233.23 L105.13 233.25 L104.56 233.28 L103.99 233.27 L103.42 233.28 L102.85 233.3 L102.28 233.3 L101.71 233.31 L101.14 233.32 L100.57 233.32 L100 233.33 L99.43 233.34 L98.86 233.36 L98.29 233.36 L97.72 233.37 L97.15 233.37 L96.58 233.39 L96.01 233.4 L95.44 233.42 L94.87 233.42 L94.3 233.43 L93.73 233.44 L93.16 233.45 L92.59 233.46 L92.02 233.46 L91.45 233.45 L90.88 233.48 L90.31 233.49 L89.74 233.5Z" fill="#0000ff" fill-opacity=".2" stroke="#0000ff" stroke-opacity=".2" stroke-width="1.39" stroke-linejoin="miter"/>
<path d="M89.74 233.5 L90.31 233.32 L90.88 233.31 L91.45 233.24 L92.02 233.18 L92.59 233.13 L93.16 232.96 L93.73 232.94 L94.3 232.86 L94.87 233.08 L95.44 233.01 L96.01 232.9 L96.58 232.8 L97.15 232.69 L97.72 232.57 L98.29 232.51 L98.86 232.52 L99.43 232.46 L100 232.48 L100.57 232.41 L101.14 232.37 L101.71 232.42 L102.28 232.37 L102.85 232.27 L103.42 232.2 L103.99 232.18 L104.56 232.22 L105.13 232.13 L105.7 232.05 L106.27 232.04 L106.84 231.94 L107.41 231.91 L107.98 231.94 L108.55 231.94 L109.12 231.91 L109.69 231.91 L110.26 231.77 L110.83 231.81 L111.4 231.75 L111.97 231.68 L112.54 231.7 L113.11 231.72 L113.68 231.68 L114.25 231.62 L114.82 231.62 L115.39 231.6 L115.96 231.63 L116.53 231.61 L117.1 231.57 L117.67 231.57 L118.24 231.5 L118.81 231.4 L119.38 231.39 L119.95 231.38 L120.52 231.32 L121.09 231.23 L121.66 231.21 L122.23 231.02 L122.8 231.07 L123.37 231.09 L123.94 230.94 L124.51 230.94 L125.08 230.86 L125.65 230.9 L126.22 230.7 L126.79 230.63 L127.36 230.69 L127.93 230.76 L128.5 230.5 L129.06 230.43 L129.63 230.43 L130.2 230.32 L130.77 230.43 L131.34 230.22 L131.91 230.2 L132.48 230.03 L133.05 230.13 L133.62 230.03 L134.19 229.91 L134.76 229.66 L135.33 229.82 L135.9 229.81 L136.47 229.78 L137.04 229.79 L137.61 229.68 L138.18 229.47 L138.75 229.29 L139.32 229.14 L139.89 229.25 L140.46 228.98 L141.03 228.86 L141.6 228.78 L142.17 228.76 L142.74 228.77 L143.31 228.53 L143.88 228.28 L144.45 228.28 L145.02 228.4 L145.59 228.41 L146.16 228.33 L146.73 228.18 L147.3 228.12 L147.87 227.99 L148.44 228 L149.01 227.78 L149.58 227.72 L150.15 227.61 L150.72 227.59 L151.29 227.5 L151.86 227.72 L152.43 227.71 L153 227.67 L153.57 227.14 L154.14 226.96 L154.71 226.78 L155.28 226.77 L155.85 226.36 L156.42 226.5 L156.99 226.56 L157.56 226.25 L158.13 226.05 L158.7 225.91 L159.27 225.89 L159.84 225.92 L160.41 226.12 L160.98 225.93 L161.55 225.9 L162.12 225.77 L162.69 225.87 L163.26 225.77 L163.83 225.77 L164.4 225.4 L164.97 225.23 L165.54 225 L166.11 225.12 L166.68 225.06 L167.25 224.86 L167.82 224.67 L168.39 224.63 L168.96 224.41 L169.53 224.2 L170.09 224.21 L170.66 224.47 L171.23 224.24 L171.8 224.01 L172.37 223.73 L172.94 223.48 L173.51 223.54 L174.08 223.6 L174.65 223.5 L175.22 223.44 L175.79 223.34 L176.36 223.24 L176.93 222.88 L177.5 222.77 L178.07 222.75 L178.64 222.55 L179.21 222.4 L179.78 222.21 L180.35 222.11 L180.92 222.2 L181.49 222.01 L182.06 221.88 L182.63 221.92 L183.2 221.88 L183.77 222.02 L184.34 221.37 L184.91 221.43 L185.48 221.17 L186.05 221.08 L186.62 221.14 L187.19 221.2 L187.76 221.21 L188.33 220.97 L188.9 221.12 L189.47 220.73 L190.04 220.44 L190.61 220.33 L191.18 219.85 L191.75 220.13 L192.32 219.97 L192.89 220.1 L193.46 219.54 L194.03 218.98 L194.6 218.67 L195.17 218.53 L195.74 218 L196.31 217.86 L196.88 217.6 L197.45 217.83 L198.02 217.29 L198.59 217.33 L199.16 216.84 L199.73 216.37 L200.3 216.06 L200.87 215.68 L201.44 215.72 L202.01 215.93 L202.58 215.8 L203.15 215.77 L203.72 215.97 L204.29 215.7 L204.86 215.43 L205.43 215.05 L206 214.34 L206.57 214.45 L207.14 213.72 L207.71 213.88 L208.28 213.73 L208.85 213.94 L209.42 213.65 L209.99 213.11 L210.56 213.09 L211.12 212.68 L211.69 212.38 L212.26 212.12 L212.83 211.77 L213.4 211.41 L213.97 210.82 L214.54 210.54 L215.11 209.52 L215.68 209.45 L216.25 208.92 L216.82 209.32 L217.39 209.56 L217.96 208.42 L218.53 208.32 L219.1 208.15 L219.67 207.65 L220.24 207.81 L220.81 207.51 L221.38 206.79 L221.95 206.75 L222.52 206.7 L223.09 206.68 L223.66 206.17 L224.23 206.36 L224.8 206.45 L225.37 205.87 L225.94 205.56 L226.51 205.45 L227.08 205.16 L227.65 205.58 L228.22 205.33 L228.79 204.71 L229.36 204.26 L229.93 204.11 L230.5 204.72 L231.07 204.27 L231.64 203.98 L232.21 203.86 L232.78 203.5 L233.35 204.17 L233.92 203.36 L234.49 203.3 L235.06 202.92 L235.63 202.81 L236.2 201.74 L236.77 202.43 L237.34 201.73 L237.91 201.03 L238.48 199.86 L239.05 198.98 L239.62 198.9 L240.19 198.91 L240.76 198.64 L241.33 198.54 L241.9 198.04 L242.47 197.14 L243.04 196.83 L243.61 196.52 L244.18 195.8 L244.75 195.66 L245.32 195.78 L245.89 195.16 L246.46 194.29 L247.03 194.19 L247.6 194.65 L248.17 193.72 L248.74 193.05 L249.31 192.46 L249.88 192.64 L250.45 191.12 L251.02 191.08 L251.59 191.35 L252.15 190.35 L252.72 190.73 L253.29 190.38 L253.86 189.44 L254.43 189.06 L255 187.72 L255.57 187.17 L256.14 188.04 L256.71 186.96 L257.28 187.71 L257.85 186.98 L258.42 187 L258.99 186.31 L259.56 184.23 L260.13 183.71 L260.7 183.72 L261.27 182.72 L261.84 181.64 L262.41 181.85 L262.98 181.14 L263.55 179.74 L264.12 179.29 L264.69 179.92 L265.26 179.24 L265.83 179.63 L266.4 180.2 L266.97 179.33 L267.54 177.67 L268.11 176.19 L268.68 175.97 L269.25 176.35 L269.82 175.98 L270.39 175.76 L270.96 174.67 L271.53 174.32 L272.1 173.31 L272.67 172.55 L273.24 171.11 L273.81 169.73 L274.38 169.44 L274.95 168.6 L275.52 167.97 L276.09 168.56 L276.66 168.19 L277.23 169.93 L277.8 169.51 L278.37 167.94 L278.94 167.75 L279.51 167.24 L280.08 166.05 L280.65 166.29 L281.22 165.08 L281.79 162.63 L282.36 163.31 L282.93 162.74 L283.5 163.54 L284.07 162.63 L284.64 161.56 L285.21 162.32 L285.78 161.2 L286.35 161.03 L286.92 161.5 L287.49 160.97 L288.06 160.37 L288.63 159.94 L289.2 160.06 L289.77 158.8 L290.34 158.9 L290.91 158.88 L291.48 160.35 L292.05 158.85 L292.61 157.15 L293.18 157.33 L293.75 156.32 L294.32 156.08 L294.89 154.83 L295.46 154.5 L296.03 152.29 L296.6 150.88 L297.17 147.4 L297.74 146.04 L298.31 146.79 L298.88 145.5 L299.45 144.82 L300.02 143.81 L300.59 144.53 L301.16 144.59 L301.73 143.45 L302.3 144.05 L302.87 144.02 L303.44 144.2 L304.01 143.33 L304.58 144 L305.15 143.59 L305.72 142.95 L306.29 142.22 L306.86 141.75 L307.43 141.93 L308 141.34 L308.57 141.63 L309.14 141.46 L309.71 141.75 L310.28 141.55 L310.85 140.74 L311.42 138.76 L311.99 138.44 L312.56 138.35 L313.13 137.64 L313.7 137.21 L314.27 136.01 L314.84 135.04 L315.41 133.77 L315.98 134.23 L316.55 133.54 L317.12 132.4 L317.69 130.81 L318.26 130.3 L318.83 131.1 L319.4 131.14 L319.97 130.3 L320.54 131.14 L321.11 131.65 L321.68 131.49 L322.25 131.02 L322.82 130.82 L323.39 130.17 L323.96 129.74 L324.53 128.2 L325.1 128.54 L325.67 127.77 L326.24 128.35 L326.81 125.8 L327.38 125.8 L327.95 125.9 L328.52 124.83 L329.09 124.54 L329.66 124.11 L330.23 123.25 L330.8 121.48 L331.37 120.26 L331.94 120.46 L332.51 120.67 L333.08 119.75 L333.64 118.94 L334.21 118.32 L334.78 118.39 L335.35 116.67 L335.92 115.1 L336.49 114.98 L337.06 113.85 L337.63 113.37 L338.2 113.37 L338.77 113.48 L339.34 112.39 L339.91 112.72 L340.48 111.14 L341.05 111.41 L341.62 110.11 L342.19 109.29 L342.76 109.75 L343.33 109.3 L343.9 108.62 L344.47 108.23 L345.04 108.33 L345.61 107.97 L346.18 107.6 L346.75 107.8 L347.32 106.87 L347.89 106.3 L348.46 105.76 L349.03 106.28 L349.6 106.47 L350.17 106.73 L350.74 105.99 L351.31 105.28 L351.88 105.39 L352.45 104.47 L353.02 104.64 L353.59 104.56 L354.16 103.31 L354.73 102.52 L355.3 101.64 L355.87 102.19 L356.44 102.97 L357.01 101.31 L357.58 99.8 L358.15 96.76 L358.72 96.15 L359.29 95.27 L359.86 93.6 L360.43 94 L361 92.62 L361.57 92.57 L362.14 92.71 L362.71 91.76 L363.28 92.49 L363.85 93.02 L364.42 91.69 L364.99 90.73 L365.56 91.24 L366.13 91.12 L366.7 90.31 L367.27 90.11 L367.84 89.8 L368.41 89.42 L368.98 89.53 L369.55 89.24 L370.12 89.64 L370.69 89.58 L371.26 89.02 L371.83 88.71 L372.4 88.49 L372.97 87.86 L373.54 86.17 L374.11 86.03 L374.67 85.41 L375.24 85.74 L375.81 85.02 L376.38 84.63 L376.95 84.16 L377.52 84.35 L378.09 83.66 L378.66 82.88 L379.23 82.49 L379.8 81.81 L380.37 81.48 L380.94 81.08 L381.51 80.83 L382.08 81.27 L382.65 80.76 L383.22 80.53 L383.79 80.25 L384.36 80.3 L384.93 79.66 L385.5 79.32 L386.07 79.28 L386.64 79.42 L387.21 79.26 L387.78 78.93 L388.35 78.5 L388.92 78.71 L389.49 79.25 L390.06 79.08 L390.63 78.49 L391.2 78.05 L391.77 76.91 L392.34 76.25 L392.91 75.66 L393.48 75.37 L394.05 74.84 L394.62 73.69 L395.19 73.97 L395.76 74.33 L396.33 73.37 L396.9 72.91 L397.47 72.5 L398.04 72.46 L398.61 71.15 L399.18 71.77 L399.75 71.04 L400.32 71.3 L400.89 70.82 L401.46 70.18 L402.03 69.78 L402.6 69.87 L403.17 69.09 L403.74 68.68 L404.31 68.27 L404.88 67.41 L405.45 67.91 L406.02 67.89 L406.59 67.55 L407.16 67.7 L407.73 66.88 L408.3 66.57 L408.87 66.98 L409.44 66.89 L410.01 65.46 L410.58 63.92 L411.15 63.68 L411.72 64.27 L412.29 63.98 L412.86 63.8 L413.43 63.91 L414 63.3 L414.57 63.23 L415.14 63.33 L415.7 63.17 L416.27 62.95 L416.84 62.32 L417.41 62.22 L417.98 61.71 L418.55 61.9 L419.12 62.39 L419.69 61.46 L420.26 60.23 L420.83 59.9 L421.4 59.86 L421.97 60.06 L422.54 60.14 L423.11 59.53 L423.68 59.05 L424.25 59.32 L424.82 58.69 L425.39 58.9 L425.96 58.56 L426.53 58.58 L427.1 58.52 L427.67 58.44 L428.24 58.35 L428.81 57.64 L429.38 57.51 L429.95 57.26 L430.52 57.05 L431.09 57.1 L431.66 56.57 L432.23 55.97 L432.8 55.47 L433.37 55.18 L433.94 55.2 L434.51 54.67 L435.08 54.79 L435.65 54.53 L436.22 54.12 L436.79 53.44 L437.36 53.39 L437.93 53.48 L438.5 52.87 L439.07 53.15 L439.64 53.39 L440.21 53.3 L440.78 53.41 L441.35 53.94 L441.92 54.07 L442.49 53.76 L443.06 53.76 L443.63 53.78 L444.2 53.83 L444.77 53.5 L445.34 53.87 L445.91 53.81 L446.48 53.74 L447.05 53.59 L447.62 53.62 L448.19 53.38 L448.76 53.07 L449.33 53.04 L449.9 53.12 L450.47 52.82 L451.04 52.84 L451.61 52.62 L452.18 52.3 L452.75 52.34 L453.32 51.97 L453.89 51.92 L454.46 51.67 L455.03 51.7 L455.6 51.49 L456.17 51.38 L456.73 51.57 L457.3 51.57 L457.87 51.55 L458.44 51.46 L459.01 51.53 L459.58 51.28 L460.15 51.14 L460.72 51.18 L461.29 51.08 L461.86 50.87 L462.43 50.73 L463 50.56 L463.57 50.36 L464.14 50.51 L464.71 50.44 L465.28 50.37 L465.85 50.01 L466.42 49.58 L466.99 49.01 L467.56 48.77 L468.13 48.14 L468.7 48 L469.27 48.25 L469.84 48.57 L470.41 48.6 L470.98 48.22 L471.55 48.19 L472.12 47.9 L472.69 47.96 L473.26 47.81 L473.83 47.83 L474.4 48.08 L474.97 47.94 L475.54 48.02 L476.11 47.73 L476.68 47.43 L477.25 47.43 L477.82 47.45 L478.39 47.11 L478.96 46.93 L479.53 46.56 L480.1 46.44 L480.67 46.48 L481.24 46.34 L481.81 46.15 L482.38 45.86 L482.95 45.88 L483.52 45.93 L484.09 45.91 L484.66 45.81 L485.23 45.5 L485.8 45.68 L486.37 45.52 L486.94 45.37 L487.51 45.34 L488.08 44.95 L488.65 44.9 L489.22 44.83 L489.79 44.8 L490.36 44.85 L490.93 44.76 L491.5 44.46 L492.07 44.36 L492.64 44.31 L493.21 44.29 L493.78 44.22 L494.35 44.17 L494.92 44.27 L495.49 44.34 L496.06 44.36 L496.63 44.3 L497.19 44.43 L497.76 44.32 L498.33 44.36 L498.9 44.48 L499.47 44.48 L500.04 44.5 L500.61 44.47 L501.18 44.55 L501.75 44.5 L502.32 44.53 L502.89 44.56 L503.46 44.52 L504.03 44.6 L504.6 44.47 L505.17 44.38 L505.74 44.33 L506.31 44.24 L506.88 44.23 L507.45 44.23 L508.02 44.12 L508.59 43.99 L509.16 43.88 L509.73 43.79 L510.3 43.82 L510.87 43.72 L511.44 43.69 L512.01 43.59 L512.58 43.42 L513.15 43.46 L513.72 43.27 L514.29 43.22 L514.86 43.29 L515.43 43.09 L516 43.02 L516.57 42.83 L517.14 42.76 L517.71 42.62 L518.28 42.59 L518.85 42.55 L519.42 42.59 L519.99 42.69 L520.56 42.67 L521.13 42.67 L521.7 42.63 L522.27 42.59 L522.84 42.52 L523.41 42.44 L523.98 42.46 L524.55 42.51 L525.12 42.5 L525.69 42.45 L526.26 42.48 L526.83 42.44 L527.4 42.39 L527.97 42.33 L528.54 42.28 L529.11 42.27 L529.68 42.35 L530.25 42.31 L530.82 42.24 L531.39 42.2 L531.96 42.18 L532.53 42.08 L533.1 42.09 L533.67 42.1 L534.24 42.06 L534.81 42.04 L535.38 41.88 L535.95 41.72 L536.52 41.8 L537.09 41.82 L537.66 41.63 L538.22 41.6 L538.79 41.55 L539.36 41.55 L539.93 41.49 L540.5 41.38 L541.07 41.34 L541.64 41.29 L542.21 41.22 L542.78 41.02 L543.35 40.79 L543.92 40.78 L544.49 40.69 L545.06 40.74 L545.63 40.78 L546.2 40.76 L546.77 40.69 L547.34 40.67 L547.91 40.72 L548.48 40.64 L549.05 40.67 L549.62 40.67 L550.19 40.64 L550.76 40.67 L551.33 40.59 L551.9 40.59 L552.47 40.52 L553.04 40.47 L553.61 40.43 L554.18 40.43 L554.75 40.39 L555.32 40.39 L555.89 40.34 L556.46 40.37 L557.03 40.4 L557.6 40.37 L558.17 40.39 L558.74 40.37 L559.31 40.39 L559.88 40.34 L560.45 40.25 L561.02 40.27 L561.59 40.23 L562.16 40.16 L562.73 40.12 L563.3 40.05 L563.87 40.04 L564.44 40 L565.01 40.04 L565.58 40.04 L566.15 39.95 L566.72 39.89 L567.29 39.87 L567.86 39.8 L568.43 39.81 L569 39.81 L569.57 39.78 L570.14 39.76 L570.71 39.77 L571.28 39.8 L571.85 39.82 L572.42 39.78 L572.99 39.77 L573.56 39.7 L574.13 39.68 L574.7 39.62 L575.27 39.62 L575.84 39.55 L576.41 39.51 L576.98 39.5 L577.55 39.5 L578.12 39.44 L578.69 39.41 L579.25 39.4 L579.82 39.39 L580.39 39.36 L580.96 39.36 L581.53 39.35 L582.1 39.37 L582.67 39.36 L583.24 39.31 L583.81 39.26 L584.38 39.27 L584.95 39.28 L585.52 39.27 L586.09 39.27 L586.66 39.25 L587.23 39.22 L587.8 39.22 L588.37 39.21 L588.94 39.21 L589.51 39.18 L590.08 39.18 L590.65 39.18 L591.22 39.18 L591.79 39.17 L592.36 39.17 L592.93 39.16 L593.5 39.17 L594.07 39.16 L594.64 39.15 L595.21 39.15 L595.78 39.14 L596.35 39.15 L596.92 39.13 L597.49 39.13 L598.06 39.13 L598.63 39.13 L599.2 39.13 L599.77 39.13 L600.34 39.13 L600.91 39.12 L601.48 39.12 L602.05 39.12 L602.62 39.11 L603.19 39.11 L603.76 39.1 L604.33 39.1 L604.9 39.09 L605.47 39.07 L606.04 39.07 L606.61 39.07 L607.18 39.07 L607.75 39.06 L608.32 39.07 L608.89 39.06 L609.46 39.05 L610.03 39.05 L610.6 39.05 L611.17 39.04 L611.74 39.04 L612.31 39.05 L612.88 39.04 L613.45 39.04 L614.02 39.03 L614.59 39.02 L615.16 39.01 L615.73 38.99 L616.3 38.99 L616.87 38.98 L617.44 38.99 L618.01 38.99 L618.58 38.98 L619.15 38.97 L619.72 38.98 L620.28 38.97 L620.85 38.96 L621.42 38.95 L621.99 38.95 L622.56 38.95 L623.13 38.94 L623.7 38.95 L624.27 38.95 L624.84 38.92 L625.41 38.94 L625.98 38.93 L626.55 38.93 L627.12 38.91 L627.69 38.9 L628.26 38.89 L628.83 38.88 L629.4 38.88 L629.97 38.88 L630.54 38.85 L631.11 38.85 L631.68 38.85 L632.25 38.84 L632.82 38.83 L633.39 38.82 L633.96 38.81 L634.53 38.79 L635.1 38.78 L635.67 38.79 L636.24 38.78 L636.81 38.78 L637.38 38.76 L637.95 38.77 L638.52 38.78 L639.09 38.76 L639.66 38.76 L640.23 38.74 L640.8 38.75 L641.37 38.74 L641.94 38.72 L642.51 38.73 L643.08 38.72 L643.65 38.71 L644.22 38.7 L644.79 38.68 L645.36 38.67 L645.93 38.67 L646.5 38.66 L647.07 38.65 L647.64 38.66 L648.21 38.65 L648.78 38.63 L649.35 38.62 L649.92 38.62 L650.49 38.62 L651.06 38.61 L651.63 38.61 L652.2 38.59 L652.77 38.58 L653.34 38.57 L653.91 38.56 L654.48 38.56 L655.05 38.54 L655.62 38.56 L656.19 38.54 L656.76 38.54 L657.33 38.54 L657.9 38.53 L658.47 38.52 L659.04 38.5" fill="none" stroke="#0000ff" stroke-width="2.78" stroke-linejoin="round" stroke-linecap="square"/>
<path class="dash" d="M61.28 234 H687.5"/>
</g>
<path class="tick" d="M90.5 437.5 v4.86"/><text class="tk" x="90.44" y="457" text-anchor="middle">0</text>
<path class="tick" d="M204.5 437.5 v4.86"/><text class="tk" x="203.92" y="457" text-anchor="middle">200</text>
<path class="tick" d="M318.5 437.5 v4.86"/><text class="tk" x="317.89" y="457" text-anchor="middle">400</text>
<path class="tick" d="M432.5 437.5 v4.86"/><text class="tk" x="431.86" y="457" text-anchor="middle">600</text>
<path class="tick" d="M546.5 437.5 v4.86"/><text class="tk" x="545.83" y="457" text-anchor="middle">800</text>
<path class="tick" d="M660.5 437.5 v4.86"/><text class="tk" x="659.81" y="457" text-anchor="middle">1000</text>
<path class="tick" d="M61.5 429.5 h-4.86"/><text class="tk" x="51.86" y="434" text-anchor="end">0.0</text>
<path class="tick" d="M61.5 351.5 h-4.86"/><text class="tk" x="51.86" y="356" text-anchor="end">0.2</text>
<path class="tick" d="M61.5 273.5 h-4.86"/><text class="tk" x="51.86" y="278" text-anchor="end">0.4</text>
<path class="tick" d="M61.5 194.5 h-4.86"/><text class="tk" x="51.86" y="200" text-anchor="end">0.6</text>
<path class="tick" d="M61.5 116.5 h-4.86"/><text class="tk" x="51.86" y="122" text-anchor="end">0.8</text>
<path class="tick" d="M61.5 38.5 h-4.86"/><text class="tk" x="51.86" y="44" text-anchor="end">1.0</text>
<rect class="sp" x="61.5" y="30.5" width="627" height="407"/>
<text class="tk" x="373.89" y="476.62" text-anchor="middle" font-style="italic">t</text>
<text class="tk" transform="translate(20.03 235.01) rotate(-90)" text-anchor="middle">consumption share</text>
<text class="ti" x="374.39" y="21.97" text-anchor="middle">Agent 1 consumption share (Nature = f)</text>
<g id="legend1">
<rect x="68.5" y="37.5" width="165" height="67" rx="2.78" ry="2.78" fill="#fff" stroke="#ccc" stroke-width="1.15" opacity=".8"/>
<path d="M74.5 49.5 H102.5" stroke="#0000ff" stroke-width="2.78" stroke-linecap="square" fill="none"/>
<text class="tk" x="112.97" y="53.8">median</text>
<rect x="74.5" y="65.5" width="28" height="10" fill="#0000ff" fill-opacity=".2" stroke="#0000ff" stroke-opacity=".2" stroke-width="1.39"/>
<text class="tk" x="112.97" y="74.74">25-75 percentile</text>
<path class="dash" d="M74.5 91 H102.5"/>
<text class="tk" x="112.97" y="95.68">equal share</text>
</g>
</g>
<g id="axes2">
<g clip-path="url(#c1)">
<path d="M782.2 233.5 L784.88 228.59 L785.84 223.68 L786.42 218.77 L786.8 213.86 L786.93 208.95 L787 204.04 L787.08 199.13 L787.15 194.22 L787.44 189.31 L787.76 184.4 L788.08 179.49 L788.4 174.58 L788.73 169.67 L789.11 164.76 L789.28 159.85 L789.46 154.94 L789.63 150.03 L789.81 145.12 L789.99 140.21 L790.16 135.29 L790.34 130.38 L790.51 125.47 L790.69 120.56 L790.86 115.65 L791.04 110.74 L791.21 105.83 L791.39 100.92 L791.56 96.01 L791.8 91.1 L792.06 86.19 L792.31 81.28 L792.56 76.37 L792.82 71.46 L793.09 66.55 L793.42 61.64 L793.75 56.73 L794.08 51.82 L794.92 46.91 L797.1 42 L798.6 40 L800 39 L802 38.4 L805.5 38.1 L1351.6 38.1 L1351.6 38.1 L812 38.1 L808.5 38.4 L806.2 39 L804.6 40 L803.75 42 L801.49 46.91 L800.57 51.82 L800.17 56.73 L799.76 61.64 L799.36 66.55 L799.01 71.46 L798.68 76.37 L798.35 81.28 L798.02 86.19 L797.69 91.1 L797.38 96.01 L797.13 100.92 L796.88 105.83 L796.63 110.74 L796.38 115.65 L796.12 120.56 L795.87 125.47 L795.62 130.38 L795.37 135.29 L795.12 140.21 L794.87 145.12 L794.62 150.03 L794.37 154.94 L794.12 159.85 L793.87 164.76 L793.41 169.67 L793.01 174.58 L792.61 179.49 L792.21 184.4 L791.82 189.31 L791.42 194.22 L791.03 199.13 L790.63 204.04 L790.24 208.95 L789.78 213.86 L789.05 218.77 L787.59 223.68 L785.76 228.59 L782.2 233.5Z" fill="#008000" fill-opacity=".2" stroke="#008000" stroke-opacity=".2" stroke-width="1.39" stroke-linejoin="miter"/>
<path d="M782.2 233.5 L784 231.5 L785.7 227.1 L787 220 L787.9 212.9 L789.3 191.4 L790.7 170 L791.1 165 L793.6 95 L795 67.9 L796.2 50 L797.3 45.3 L798.3 43.2 L799.3 41.7 L800.4 40.4 L801.5 39.5 L803.5 38.6 L806 38.2 L809 38.1 L1351.6 38.1" fill="none" stroke="#008000" stroke-width="2.78" stroke-linejoin="round" stroke-linecap="square"/>
<path class="dash" d="M753.78 234 H1380"/>
</g>
<path class="tick" d="M782.5 437.5 v4.86"/><text class="tk" x="782.94" y="457" text-anchor="middle">0</text>
<path class="tick" d="M896.5 437.5 v4.86"/><text class="tk" x="896.42" y="457" text-anchor="middle">200</text>
<path class="tick" d="M1010.5 437.5 v4.86"/><text class="tk" x="1010.39" y="457" text-anchor="middle">400</text>
<path class="tick" d="M1124.5 437.5 v4.86"/><text class="tk" x="1124.36" y="457" text-anchor="middle">600</text>
<path class="tick" d="M1238.5 437.5 v4.86"/><text class="tk" x="1238.33" y="457" text-anchor="middle">800</text>
<path class="tick" d="M1352.5 437.5 v4.86"/><text class="tk" x="1352.31" y="457" text-anchor="middle">1000</text>
<path class="tick" d="M754.5 429.5 h-4.86"/><text class="tk" x="744.36" y="434" text-anchor="end">0.0</text>
<path class="tick" d="M754.5 351.5 h-4.86"/><text class="tk" x="744.36" y="356" text-anchor="end">0.2</text>
<path class="tick" d="M754.5 273.5 h-4.86"/><text class="tk" x="744.36" y="278" text-anchor="end">0.4</text>
<path class="tick" d="M754.5 194.5 h-4.86"/><text class="tk" x="744.36" y="200" text-anchor="end">0.6</text>
<path class="tick" d="M754.5 116.5 h-4.86"/><text class="tk" x="744.36" y="122" text-anchor="end">0.8</text>
<path class="tick" d="M754.5 38.5 h-4.86"/><text class="tk" x="744.36" y="44" text-anchor="end">1.0</text>
<rect class="sp" x="754.5" y="30.5" width="626" height="407"/>
<text class="tk" x="1066.39" y="476.62" text-anchor="middle" font-style="italic">t</text>
<text class="tk" transform="translate(712.53 235.01) rotate(-90)" text-anchor="middle">consumption share</text>
<text class="ti" x="1066.89" y="21.97" text-anchor="middle">Agent 1 consumption share (Nature = g)</text>
<g id="legend2">
<rect x="761.5" y="363.5" width="164.5" height="67" rx="2.78" ry="2.78" fill="#fff" stroke="#ccc" stroke-width="1.15" opacity=".8"/>
<path d="M766.5 374.5 H794.5" stroke="#008000" stroke-width="2.78" stroke-linecap="square" fill="none"/>
<text class="tk" x="805.47" y="379.34">median</text>
<rect x="766.5" y="391.5" width="28" height="9" fill="#008000" fill-opacity=".2" stroke="#008000" stroke-opacity=".2" stroke-width="1.39"/>
<text class="tk" x="805.47" y="400.28">25-75 percentile</text>
<path class="dash" d="M766.5 416 H794.5"/>
<text class="tk" x="805.47" y="421.22">equal share</text>
</g>
</g>
</svg>
</body>
</html>
